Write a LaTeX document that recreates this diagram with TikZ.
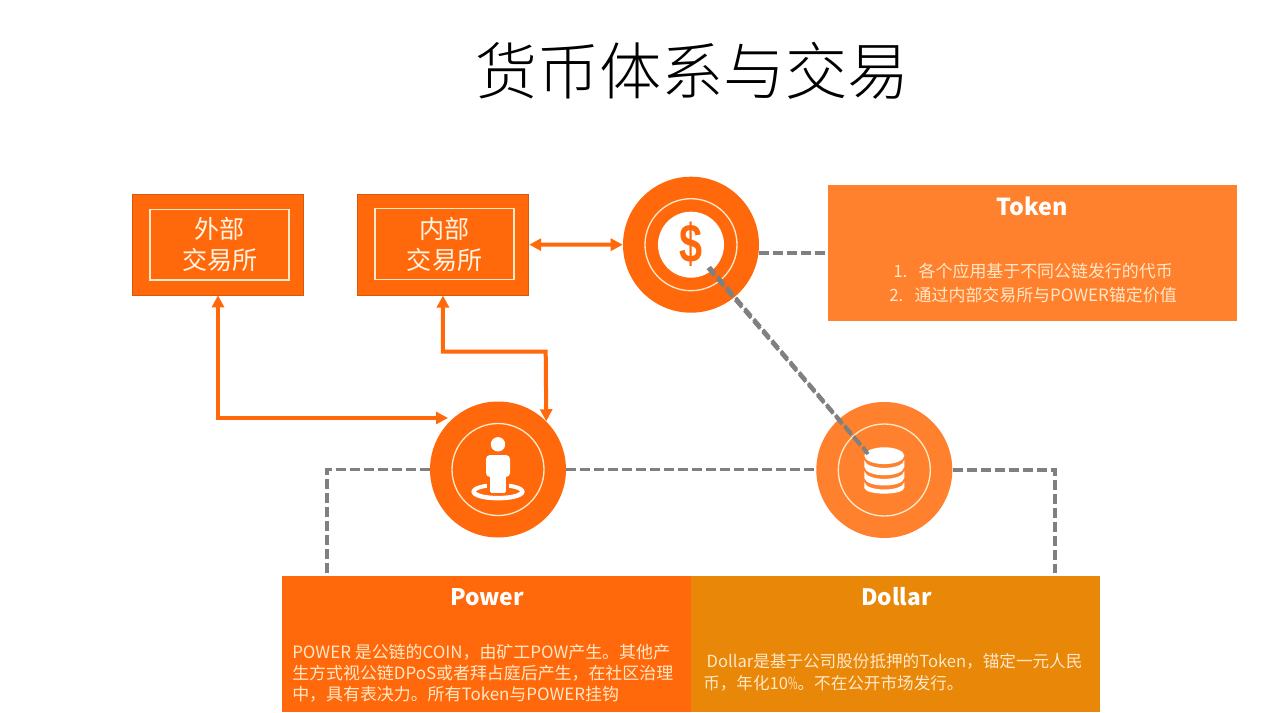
\documentclass[tikz,border=0pt]{standalone}
\usepackage{fontspec}
\setmainfont{Noto Sans CJK SC}
\newfontfamily\lightcjk{Noto Sans CJK SC Light}
\newfontfamily\dollarfont{Liberation Sans}
\usetikzlibrary{arrows.meta}
\definecolor{orA}{HTML}{FF690B}
\definecolor{orB}{HTML}{FF812E}
\definecolor{orC}{HTML}{E88708}
\definecolor{ringc}{HTML}{FFE8C8}
\definecolor{dashc}{HTML}{808080}
\tikzset{
  box/.style={rectangle,draw=#1,line width=.6pt,fill=orA,inner sep=0pt,anchor=north west},
  framebox/.style={rectangle,draw=ringc,line width=1pt,inner sep=0pt,minimum width=104.2pt,minimum height=53.2pt,text=ringc!50!white,font=\fontsize{18.8pt}{23.2pt}\selectfont,align=center},
  disc/.style={circle,fill=#1,minimum size=102pt,inner sep=0pt},
  ringn/.style={circle,draw=ringc,line width=1pt,minimum size=69pt,inner sep=0pt},
  panel/.style={rectangle,fill=#1,inner sep=0pt,anchor=north west,minimum height=102pt,minimum width=306.8pt},
  head/.style={text=white,font=\fontsize{#1}{22pt}\selectfont\bfseries},
  body/.style={text=ringc,font=\fontsize{12.7pt}{15.9pt}\selectfont,align=left,anchor=north west,inner sep=0pt},
  link/.style={draw=orA,line width=3pt,{Triangle[length=9pt,width=9pt]}-{Triangle[length=9pt,width=9pt]}},
  dashl/.style={draw=dashc,line width=2.7pt,dash pattern=on 7.5pt off 3pt},
}
\begin{document}
\begin{tikzpicture}[x=.75pt,y=-.75pt]
\useasboundingbox[fill=white] (0,0) rectangle (1280,713);
\node[font=\lightcjk\fontsize{46.6pt}{50pt}\selectfont,text=black] (title) at (692.5,71) {货币体系与交易};

% panels
\node[panel=orB] (tokbox) at (828,185) {};
\node[panel=orA] (powbox) at (282,576) {};
\node[panel=orC] (dolbox) at (691,576) {};
\node[head=17.5pt] (tokhead) at (1032,206.5) {Token};
\node[head=17.1pt] (powhead) at (487,597) {Power};
\node[head=17pt] (dolhead) at (896.5,597) {Dollar};
\node[body] (toktext) at (889,263) {\hspace{3pt}1.\hspace{8.5pt}各个应用基于不同公链发行的代币\\[2.2pt]2.\hspace{8.5pt}通过内部交易所与POWER锚定价值};
\node[body] (powtext) at (292,643.5) {POWER 是公链的COIN，由矿工POW产生。其他产\\生方式视公链DPoS或者拜占庭后产生，在社区治理\\中，具有表决力。所有Token与POWER挂钩};
\node[body,font=\fontsize{12.45pt}{15.9pt}\selectfont] (doltext) at (703,653.5) {\hspace{2.5pt}Dollar是基于公司股份抵押的Token，锚定一元人民\\币，年化10\scalebox{.62}[1]{\%}。不在公开市场发行。};

% exchange boxes
\node[box=orA!85!black,minimum width=128.4pt,minimum height=75.4pt] (ext) at (132,194) {};
\node[box=orA!85!black,minimum width=128.8pt,minimum height=75.8pt] (int) at (356.7,193.7) {};
\node[framebox] (extin) at ([xshift=1.2pt]ext.center) {外部\\交易所};
\node[framebox] (intin) at ([xshift=1.2pt,yshift=.3pt]int.center) {内部\\交易所};

% circles
\node[disc=orA] (tok) at (691,244.7) {};
\node[disc=orA] (pow) at (498,469.5) {};
\node[disc=orB] (dol) at (884.3,470) {};
\node[ringn] (tokring) at (tok) {};
\node[ringn] (powring) at (pow) {};
\node[ringn] (dolring) at (dol) {};

% token icon
\node[circle,fill=white,minimum size=49.5pt,inner sep=0pt] (tokcoin) at (691,244.7) {};
\node[text=orA,font=\dollarfont\fontsize{36.5pt}{36.5pt}\selectfont\bfseries,inner sep=0pt] (dollarsign) at (691,244) {\scalebox{.85}[1.12]{\$}};

% person icon
\draw[white,line width=3pt] (498,491.7) ellipse [x radius=18.4pt,y radius=5pt];
\fill[white] (498,444.3) circle [radius=5.4pt];
\fill[white,rounded corners=3pt] (486,477) -- (486,455) -- (510,455) -- (510,477) -- cycle;
\fill[orA] (487,478) rectangle (509,495);
\fill[white] (490,470) rectangle (506,492);
\fill[white] (491,489) rectangle (505,493);
\draw[white,line width=3pt] (474,491.7) .. controls (476,500) and (520,500) .. (522,491.7);

% database icon
\fill[white] (884.3,455.7) ellipse [x radius=15pt,y radius=6.3pt];
\fill[white] (864.3,460) .. controls (866,470.5) and (902.6,470.5) .. (904.3,460) -- (904.3,467) .. controls (902.6,478) and (866,478) .. (864.3,467) -- cycle;
\fill[white] (864.3,471) .. controls (866,481.5) and (902.6,481.5) .. (904.3,471) -- (904.3,478) .. controls (902.6,488) and (866,488) .. (864.3,478) -- cycle;
\fill[white] (864.3,482) .. controls (866,492) and (902.6,492) .. (904.3,482) -- (904.3,488) .. controls (902.6,495.5) and (866,495.5) .. (864.3,488) -- cycle;

% arrows
\coordinate (extend) at (448,418);
\coordinate (elbowA) at (442.75,351.7);
\coordinate (elbowB) at (545.7,351.7);
\draw[link] (ext.south) |- (extend);
\draw[link] (int.south) -- (elbowA) -- (elbowB) -- (pow.45.5);
\draw[link] (int.east) -- (tok.west);

% dashed
\coordinate (pl) at (327,573);
\coordinate (dr) at (1055,573);
\coordinate (da) at (708,268);
\coordinate (db) at (868,454);
\coordinate (dc) at (709.5,267);
\coordinate (dd) at (867,452);
\draw[dashl] (pl) |- (pow.west);
\draw[dashl] (pow.east) -- (pow.east -| dol.west);
\draw[dashl] (dol.east) -| (dr);
\draw[dashl] (tok.-7.2) -- (tok.-7.2 -| tokbox.west);
\draw[dashl] (da) -- (db);
\draw[dashl,dash phase=1.2pt] (dc) -- (dd);
\end{tikzpicture}
\end{document}
